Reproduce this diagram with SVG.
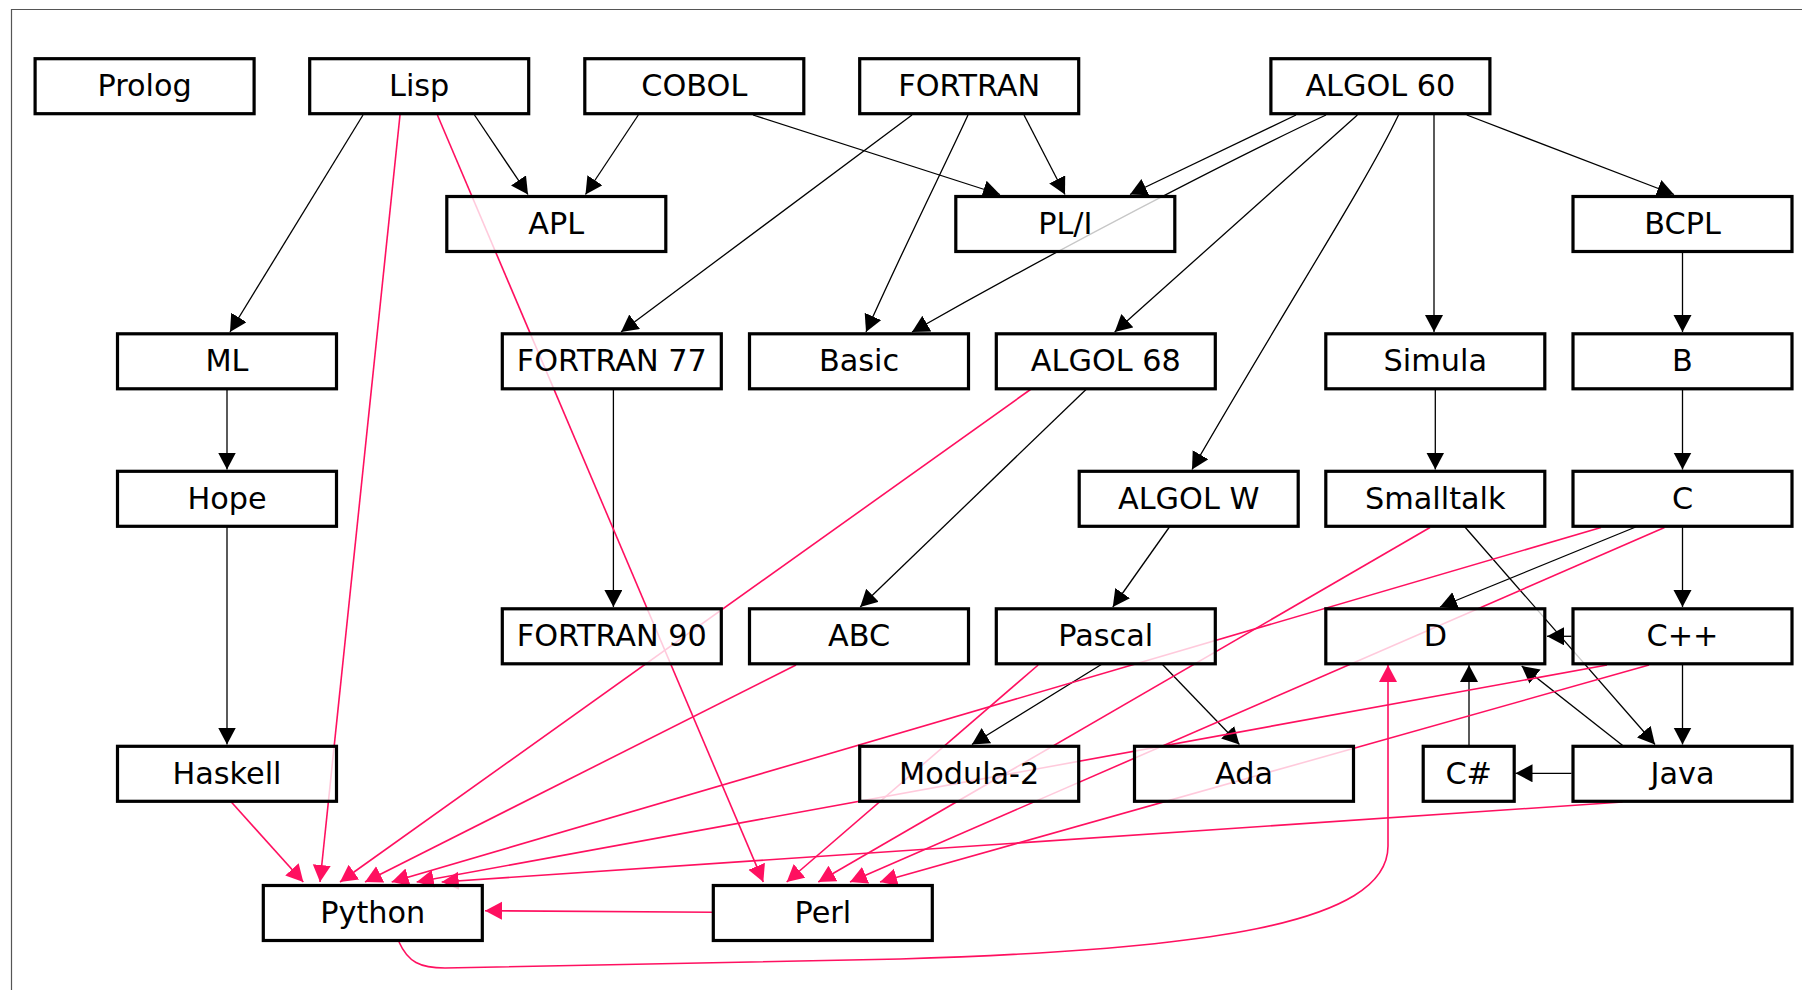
<svg xmlns="http://www.w3.org/2000/svg" width="1802" height="990" viewBox="0 0 1802 990">
<style>
.n rect{fill:#fff;fill-opacity:0.78;stroke:#000;stroke-width:3.2}
.n text{font-family:"DejaVu Sans",sans-serif;font-size:30.3px;text-anchor:middle;fill:#000}
.k{fill:none;stroke:#000;stroke-width:1.3;marker-end:url(#ak)}
.p{fill:none;stroke:#ff1060;stroke-width:1.6;marker-end:url(#ap)}
</style>
<defs>
<marker id="ak" markerUnits="userSpaceOnUse" markerWidth="18" markerHeight="19" refX="17" refY="9" orient="auto"><path d="M0,0 L17,9 L0,18 z" fill="#000"/></marker>
<marker id="ap" markerUnits="userSpaceOnUse" markerWidth="18" markerHeight="19" refX="17" refY="9" orient="auto"><path d="M0,0 L17,9 L0,18 z" fill="#ff1060"/></marker>
</defs>
<rect width="1802" height="990" fill="#fff"/>
<path d="M11.5,990 V9.5 H1802" fill="none" stroke="#555" stroke-width="1.2"/>
<g id="connectors">
<path class="k" d="M363,115 L230,332"/>
<path class="k" d="M474.5,115 L528,194.5"/>
<path class="k" d="M638.3,115 L585.5,194.5"/>
<path class="k" d="M753,115 L1000,194.5"/>
<path class="k" d="M1024,115 L1065,194.5"/>
<path class="k" d="M912,115 L621,332"/>
<path class="k" d="M968,115 C945,165 905,245 866,332"/>
<path class="k" d="M1296,115 L1130,194.5"/>
<path class="k" d="M1326,115 C1230,160 1060,248 912,332"/>
<path class="k" d="M1357.4,115 L1114.7,332"/>
<path class="k" d="M1398.5,115 C1365,185 1290,300 1192,469.5"/>
<path class="k" d="M1434,115 L1434,332"/>
<path class="k" d="M1466.8,115 L1674,194.5"/>
<path class="k" d="M1682.5,252 L1682.5,332"/>
<path class="k" d="M1682.5,389.5 L1682.5,469.5"/>
<path class="k" d="M227,389.5 L227,469.5"/>
<path class="k" d="M227,527 L227,744.5"/>
<path class="k" d="M613.4,389.5 L613.4,607"/>
<path class="k" d="M1086,389.5 L860.2,607"/>
<path class="k" d="M1169.4,527 L1112.8,607"/>
<path class="k" d="M1435.3,389.5 L1435.3,469.5"/>
<path class="k" d="M1682.5,527 L1682.5,607"/>
<path class="k" d="M1635.7,527 L1440,607"/>
<path class="k" d="M1571.5,636.3 L1547,636.3"/>
<path class="k" d="M1464.9,527 L1655,744.5"/>
<path class="k" d="M1682.5,664.5 L1682.5,744.5"/>
<path class="k" d="M1101.3,664.5 L971.9,744.5"/>
<path class="k" d="M1162.5,664.5 L1239.4,744.5"/>
<path class="k" d="M1571.5,773.3 L1515.5,773.3"/>
<path class="k" d="M1469,746 L1469,665"/>
<path class="k" d="M1623.3,746 L1521.7,666"/>
<path class="p" d="M400,115 L320,882"/>
<path class="p" d="M437.4,115 L763.3,882"/>
<path class="p" d="M231.3,802 L303.3,882"/>
<path class="p" d="M1030.5,389.5 L340,882"/>
<path class="p" d="M796,665 L365,882"/>
<path class="p" d="M1601,527.5 L391.7,882"/>
<path class="p" d="M1607,665 L416.7,882"/>
<path class="p" d="M1622.6,802 L441.7,882"/>
<path class="p" d="M1038.2,665 L786.7,882"/>
<path class="p" d="M1430,527.5 L818.3,882"/>
<path class="p" d="M1664.5,527.5 L850,882"/>
<path class="p" d="M1649,665 L880,882"/>
<path class="p" d="M712,912.3 L485,910.7"/>
<path class="p" d="M399,942 C408,962 420,968 445,968 L900,959 C1200,950 1388,925 1388,846 L1388,665"/>
</g>
<g id="n-prolog" class="n"><rect x="35.1" y="58.7" width="219" height="55"/><text x="144.6" y="96">Prolog</text></g>
<g id="n-lisp" class="n"><rect x="309.7" y="58.7" width="219" height="55"/><text x="419.2" y="96">Lisp</text></g>
<g id="n-cobol" class="n"><rect x="584.8" y="58.7" width="219" height="55"/><text x="694.3" y="96">COBOL</text></g>
<g id="n-fortran" class="n"><rect x="859.7" y="58.7" width="219" height="55"/><text x="969.2" y="96">FORTRAN</text></g>
<g id="n-algol60" class="n"><rect x="1270.9" y="58.7" width="219" height="55"/><text x="1380.4" y="96">ALGOL 60</text></g>
<g id="n-apl" class="n"><rect x="446.8" y="196.5" width="219" height="55"/><text x="556.3" y="233.8">APL</text></g>
<g id="n-pli" class="n"><rect x="955.8" y="196.5" width="219" height="55"/><text x="1065.3" y="233.8">PL/I</text></g>
<g id="n-bcpl" class="n"><rect x="1573" y="196.5" width="219" height="55"/><text x="1682.5" y="233.8">BCPL</text></g>
<g id="n-ml" class="n"><rect x="117.5" y="333.8" width="219" height="55"/><text x="227" y="371.1">ML</text></g>
<g id="n-fortran77" class="n"><rect x="502.3" y="333.8" width="219" height="55"/><text x="611.8" y="371.1">FORTRAN 77</text></g>
<g id="n-basic" class="n"><rect x="749.5" y="333.8" width="219" height="55"/><text x="859" y="371.1">Basic</text></g>
<g id="n-algol68" class="n"><rect x="996.3" y="333.8" width="219" height="55"/><text x="1105.8" y="371.1">ALGOL 68</text></g>
<g id="n-simula" class="n"><rect x="1325.8" y="333.8" width="219" height="55"/><text x="1435.3" y="371.1">Simula</text></g>
<g id="n-b" class="n"><rect x="1573" y="333.8" width="219" height="55"/><text x="1682.5" y="371.1">B</text></g>
<g id="n-hope" class="n"><rect x="117.5" y="471.3" width="219" height="55"/><text x="227" y="508.6">Hope</text></g>
<g id="n-algolw" class="n"><rect x="1079.2" y="471.3" width="219" height="55"/><text x="1188.7" y="508.6">ALGOL W</text></g>
<g id="n-smalltalk" class="n"><rect x="1325.8" y="471.3" width="219" height="55"/><text x="1435.3" y="508.6">Smalltalk</text></g>
<g id="n-c" class="n"><rect x="1573" y="471.3" width="219" height="55"/><text x="1682.5" y="508.6">C</text></g>
<g id="n-fortran90" class="n"><rect x="502.3" y="608.8" width="219" height="55"/><text x="611.8" y="646.1">FORTRAN 90</text></g>
<g id="n-abc" class="n"><rect x="749.5" y="608.8" width="219" height="55"/><text x="859" y="646.1">ABC</text></g>
<g id="n-pascal" class="n"><rect x="996.3" y="608.8" width="219" height="55"/><text x="1105.8" y="646.1">Pascal</text></g>
<g id="n-d" class="n"><rect x="1325.8" y="608.8" width="219" height="55"/><text x="1435.3" y="646.1">D</text></g>
<g id="n-cpp" class="n"><rect x="1573" y="608.8" width="219" height="55"/><text x="1682.5" y="646.1">C++</text></g>
<g id="n-haskell" class="n"><rect x="117.5" y="746.3" width="219" height="55"/><text x="227" y="783.6">Haskell</text></g>
<g id="n-modula2" class="n"><rect x="859.7" y="746.3" width="219" height="55"/><text x="969.2" y="783.6">Modula-2</text></g>
<g id="n-ada" class="n"><rect x="1134.5" y="746.3" width="219" height="55"/><text x="1244" y="783.6">Ada</text></g>
<g id="n-csharp" class="n"><rect x="1423.2" y="746.3" width="91" height="55"/><text x="1468.7" y="783.6">C#</text></g>
<g id="n-java" class="n"><rect x="1573" y="746.3" width="219" height="55"/><text x="1682.5" y="783.6">Java</text></g>
<g id="n-python" class="n"><rect x="263.3" y="885.5" width="219" height="55"/><text x="372.8" y="922.8">Python</text></g>
<g id="n-perl" class="n"><rect x="713.3" y="885.5" width="219" height="55"/><text x="822.8" y="922.8">Perl</text></g>
</svg>
